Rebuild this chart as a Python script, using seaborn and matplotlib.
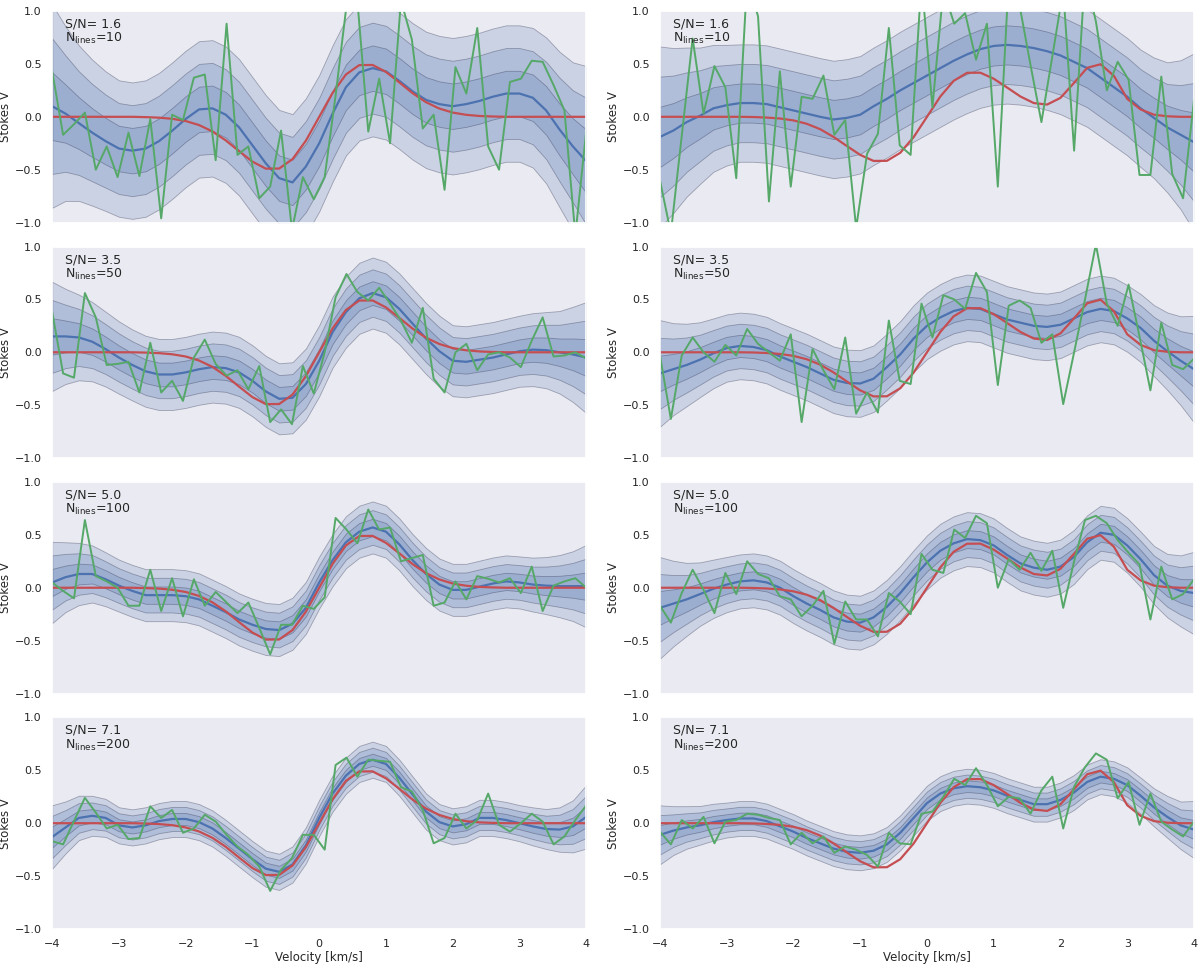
import numpy as np
import matplotlib
matplotlib.use("Agg")
import matplotlib.pyplot as plt
from matplotlib.ticker import FuncFormatter
import seaborn as sns

# grids: smooth model curves and the observed (noisy) profiles
velocity = np.linspace(-4, 4, 41)
velocity_obs = np.linspace(-4, 4, 50)

snr_labels = ["1.6", "3.5", "5.0", "7.1"]
n_lines = [10, 50, 100, 200]

# true profiles (same in every row of a column)
true_left = [0, 0, 0, 0, 0, 0, 0, -0.003, -0.008, -0.019,
             -0.040, -0.078, -0.138, -0.223, -0.325, -0.424, -0.490, -0.489, -0.400, -0.226,
             0.0, 0.226, 0.400, 0.489, 0.490, 0.424, 0.325, 0.223, 0.138, 0.078,
             0.040, 0.019, 0.008, 0.003, 0, 0, 0, 0, 0, 0, 0]
true_right = [0, 0, 0, 0, 0, 0, 0, -0.002, -0.007, -0.016,
              -0.034, -0.066, -0.117, -0.190, -0.276, -0.360, -0.417, -0.416, -0.340, -0.192,
              0.0, 0.192, 0.340, 0.416, 0.417, 0.360, 0.277, 0.192, 0.130, 0.116,
              0.179, 0.319, 0.463, 0.497, 0.388, 0.17, 0.07, 0.02, 0.005, 0, 0]

# posterior mean
mean_1l = [0.10, 0.03, -0.06, -0.15, -0.23, -0.30, -0.32, -0.30, -0.23, -0.13,
           -0.02, 0.07, 0.08, 0.02, -0.10, -0.27, -0.44, -0.58, -0.62, -0.47,
           -0.25, 0.03, 0.28, 0.42, 0.46, 0.43, 0.34, 0.24, 0.16, 0.12,
           0.10, 0.12, 0.15, 0.19, 0.22, 0.22, 0.18, 0.06, -0.12, -0.28, -0.42]
mean_1r = [-0.19, -0.13, -0.05, 0.01, 0.08, 0.11, 0.13, 0.13, 0.12, 0.09,
           0.06, 0.03, 0.00, -0.025, -0.01, 0.02, 0.10, 0.17, 0.25, 0.32,
           0.39, 0.46, 0.53, 0.59, 0.64, 0.67, 0.68, 0.67, 0.65, 0.62,
           0.58, 0.52, 0.46, 0.37, 0.28, 0.19, 0.08, -0.01, -0.10, -0.17, -0.24]
mean_2l = [0.15, 0.15, 0.14, 0.10, 0.03, -0.05, -0.12, -0.18, -0.21, -0.21,
           -0.19, -0.16, -0.14, -0.15, -0.19, -0.27, -0.37, -0.44, -0.43, -0.30,
           -0.08, 0.19, 0.38, 0.51, 0.56, 0.52, 0.41, 0.27, 0.13, 0.01,
           -0.08, -0.09, -0.07, -0.05, -0.02, 0.01, 0.025, 0.02, 0.00, -0.02, -0.05]
mean_2r = [-0.20, -0.16, -0.12, -0.07, -0.01, 0.04, 0.06, 0.05, 0.02, -0.04,
           -0.09, -0.14, -0.20, -0.26, -0.29, -0.295, -0.25, -0.14, -0.02, 0.13,
           0.25, 0.33, 0.39, 0.42, 0.41, 0.36, 0.31, 0.28, 0.25, 0.24,
           0.26, 0.32, 0.38, 0.41, 0.39, 0.32, 0.23, 0.11, 0.01, -0.08, -0.16]
mean_3l = [0.05, 0.10, 0.13, 0.13, 0.08, 0.02, -0.03, -0.07, -0.07, -0.07,
           -0.08, -0.11, -0.17, -0.23, -0.30, -0.35, -0.39, -0.40, -0.34, -0.19,
           0.05, 0.26, 0.43, 0.53, 0.57, 0.53, 0.41, 0.26, 0.13, 0.03,
           -0.02, -0.02, 0.01, 0.04, 0.06, 0.05, 0.03, 0.02, 0.015, 0.015, 0.015]
mean_3r = [-0.19, -0.15, -0.11, -0.06, -0.01, 0.03, 0.06, 0.07, 0.05, 0.00,
           -0.08, -0.15, -0.21, -0.28, -0.32, -0.33, -0.28, -0.18, -0.05, 0.10,
           0.24, 0.35, 0.42, 0.46, 0.45, 0.40, 0.31, 0.23, 0.19, 0.17,
           0.20, 0.29, 0.43, 0.52, 0.50, 0.40, 0.27, 0.12, 0.02, -0.03, -0.05]
mean_4l = [-0.13, -0.04, 0.05, 0.07, 0.05, -0.02, -0.04, -0.02, 0.02, 0.04,
           0.04, 0.01, -0.05, -0.14, -0.24, -0.34, -0.43, -0.46, -0.39, -0.21,
           0.05, 0.28, 0.45, 0.56, 0.60, 0.56, 0.43, 0.27, 0.11, 0.01,
           -0.03, -0.01, 0.05, 0.05, 0.03, 0.00, -0.03, -0.055, -0.06, -0.03, 0.06]
mean_4r = [-0.11, -0.07, -0.04, -0.02, 0.01, 0.03, 0.045, 0.045, 0.02, -0.03,
           -0.08, -0.14, -0.19, -0.24, -0.27, -0.28, -0.26, -0.20, -0.09, 0.05,
           0.19, 0.28, 0.33, 0.35, 0.34, 0.31, 0.26, 0.22, 0.18, 0.18,
           0.22, 0.29, 0.39, 0.44, 0.42, 0.36, 0.26, 0.15, 0.06, -0.02, -0.06]

# posterior std (bands are 1, 2, 3 sigma)
sig_1l = [0.32, 0.275, 0.245, 0.23, 0.22, 0.215, 0.215, 0.215, 0.215, 0.215,
          0.215, 0.215, 0.215, 0.215, 0.215, 0.215, 0.215, 0.215, 0.215, 0.215,
          0.215, 0.215, 0.215, 0.215, 0.215, 0.215, 0.215, 0.215, 0.215, 0.215,
          0.215, 0.215, 0.215, 0.215, 0.215, 0.215, 0.22, 0.23, 0.245, 0.265, 0.30]
sig_1r = [0.285, 0.26, 0.235, 0.215, 0.20, 0.19, 0.185, 0.185, 0.185, 0.185,
          0.185, 0.185, 0.185, 0.185, 0.185, 0.185, 0.185, 0.185, 0.185, 0.185,
          0.185, 0.185, 0.185, 0.185, 0.185, 0.185, 0.185, 0.185, 0.185, 0.185,
          0.185, 0.185, 0.185, 0.185, 0.185, 0.185, 0.185, 0.19, 0.205, 0.235, 0.28]
sig_2l = [0.172, 0.15, 0.135, 0.125, 0.118, 0.114, 0.112, 0.112, 0.112, 0.112,
          0.112, 0.112, 0.112, 0.112, 0.112, 0.112, 0.112, 0.112, 0.112, 0.112,
          0.112, 0.112, 0.112, 0.112, 0.112, 0.112, 0.112, 0.112, 0.112, 0.112,
          0.112, 0.112, 0.112, 0.112, 0.112, 0.112, 0.115, 0.12, 0.13, 0.15, 0.175]
sig_2r = [0.168, 0.145, 0.13, 0.118, 0.11, 0.106, 0.105, 0.105, 0.105, 0.105,
          0.105, 0.105, 0.105, 0.105, 0.105, 0.105, 0.105, 0.105, 0.105, 0.105,
          0.105, 0.105, 0.105, 0.105, 0.105, 0.105, 0.105, 0.105, 0.105, 0.105,
          0.105, 0.105, 0.105, 0.105, 0.105, 0.105, 0.107, 0.112, 0.122, 0.14, 0.168]
sig_3l = [0.128, 0.11, 0.098, 0.09, 0.085, 0.082, 0.082, 0.082, 0.082, 0.082,
          0.082, 0.082, 0.082, 0.082, 0.082, 0.082, 0.082, 0.082, 0.082, 0.082,
          0.082, 0.082, 0.082, 0.082, 0.082, 0.082, 0.082, 0.082, 0.082, 0.082,
          0.082, 0.082, 0.082, 0.082, 0.082, 0.082, 0.085, 0.09, 0.098, 0.11, 0.13]
sig_3r = [0.16, 0.135, 0.115, 0.10, 0.092, 0.087, 0.085, 0.085, 0.085, 0.085,
          0.085, 0.085, 0.085, 0.085, 0.085, 0.085, 0.085, 0.085, 0.085, 0.085,
          0.085, 0.085, 0.085, 0.085, 0.085, 0.085, 0.085, 0.085, 0.085, 0.085,
          0.085, 0.085, 0.085, 0.085, 0.085, 0.086, 0.087, 0.092, 0.10, 0.112, 0.13]
sig_4l = [0.10, 0.082, 0.07, 0.063, 0.06, 0.057, 0.057, 0.057, 0.057, 0.057,
          0.057, 0.057, 0.057, 0.057, 0.057, 0.057, 0.057, 0.057, 0.057, 0.057,
          0.057, 0.057, 0.057, 0.057, 0.057, 0.057, 0.057, 0.057, 0.057, 0.057,
          0.057, 0.057, 0.057, 0.057, 0.057, 0.057, 0.06, 0.063, 0.07, 0.082, 0.10]
sig_4r = [0.093, 0.077, 0.067, 0.061, 0.058, 0.055, 0.055, 0.055, 0.055, 0.055,
          0.055, 0.055, 0.055, 0.055, 0.055, 0.055, 0.055, 0.055, 0.055, 0.055,
          0.055, 0.055, 0.055, 0.055, 0.055, 0.055, 0.055, 0.055, 0.055, 0.055,
          0.055, 0.055, 0.055, 0.055, 0.055, 0.056, 0.057, 0.06, 0.066, 0.075, 0.09]

# observed profiles
obs_1l = [0.43, -0.17, -0.07, 0.04, -0.50, -0.28, -0.57, -0.15, -0.56, -0.02,
          -0.96, 0.02, -0.03, 0.37, 0.40, -0.41, 0.88, -0.36, -0.28, -0.77,
          -0.66, -0.13, -1.07, -0.57, -0.78, -0.57, 0.20, 1.05, 1.10, -0.14,
          0.36, -0.25, 1.10, 0.73, -0.11, 0.02, -0.69, 0.47, 0.22, 0.84,
          -0.28, -0.50, 0.33, 0.36, 0.53, 0.52, 0.30, 0.06, -1.12, -0.13]
obs_1r = [-0.60, -1.10, -0.18, 0.74, 0.03, 0.48, 0.28, -0.58, 1.30, 0.95,
          -0.80, 0.43, -0.66, 0.19, 0.17, 0.39, -0.17, -0.03, -1.05, -0.35,
          -0.16, 0.84, -0.27, -0.36, 1.30, 0.09, 1.20, 0.88, 0.98, 0.54,
          0.88, -0.66, 1.30, 1.05, 0.49, -0.05, 0.57, 1.20, -0.32, 1.35,
          0.90, 0.25, 0.52, 0.35, -0.55, -0.55, 0.38, -0.54, -0.77, 0.16]
obs_2l = [0.38, -0.20, -0.24, 0.56, 0.33, -0.12, -0.11, -0.09, -0.38, 0.09,
          -0.38, -0.27, -0.46, -0.05, 0.12, -0.11, -0.22, -0.17, -0.35, -0.13,
          -0.66, -0.54, -0.68, -0.13, -0.39, 0.00, 0.52, 0.74, 0.57, 0.49,
          0.61, 0.46, 0.30, 0.09, 0.42, -0.25, -0.38, 0.00, 0.08, -0.17,
          -0.02, 0.00, -0.05, -0.14, 0.11, 0.33, -0.04, -0.03, 0.00, -0.06]
obs_2r = [-0.03, -0.63, -0.03, 0.14, 0.00, -0.09, 0.07, -0.03, 0.22, 0.08,
          0.00, -0.08, 0.17, -0.66, 0.03, -0.17, -0.35, 0.14, -0.58, -0.38,
          -0.57, 0.30, -0.27, -0.30, 0.46, 0.14, 0.54, 0.50, 0.41, 0.75,
          0.57, -0.31, 0.44, 0.49, 0.42, 0.09, 0.17, -0.49, 0.00, 0.50,
          1.02, 0.46, 0.25, 0.64, 0.15, -0.36, 0.28, -0.12, -0.16, -0.06]
obs_3l = [0.05, -0.03, -0.10, 0.64, 0.11, 0.06, 0.00, -0.17, -0.17, 0.17,
          -0.22, 0.09, -0.27, 0.08, -0.17, -0.04, -0.14, -0.24, -0.14, -0.38,
          -0.63, -0.35, -0.35, -0.17, -0.20, -0.09, 0.66, 0.55, 0.42, 0.74,
          0.55, 0.57, 0.25, 0.28, 0.31, -0.17, -0.14, 0.06, -0.11, 0.11,
          0.085, 0.05, 0.09, -0.05, 0.20, -0.22, 0.02, 0.06, 0.09, 0.00]
obs_3r = [-0.17, -0.33, -0.05, 0.17, -0.02, -0.24, 0.14, -0.06, 0.25, 0.13,
          0.09, -0.08, -0.11, -0.27, -0.17, -0.03, -0.53, -0.13, -0.30, -0.30,
          -0.46, -0.05, -0.13, -0.25, 0.32, 0.17, 0.14, 0.55, 0.47, 0.68,
          0.61, 0.00, 0.27, 0.17, 0.33, 0.16, 0.35, -0.19, 0.25, 0.64,
          0.68, 0.61, 0.45, 0.33, 0.22, -0.30, 0.20, -0.11, -0.06, 0.08]
obs_4l = [-0.17, -0.20, 0.02, 0.24, 0.10, -0.05, -0.015, -0.15, -0.14, 0.16,
          0.05, 0.125, -0.09, -0.05, 0.08, 0.015, -0.11, -0.22, -0.30, -0.41,
          -0.64, -0.44, -0.33, -0.11, -0.11, -0.25, 0.55, 0.62, 0.44, 0.60,
          0.59, 0.58, 0.34, 0.30, 0.125, -0.19, -0.14, 0.09, -0.05, 0.03,
          0.28, -0.015, -0.08, 0.00, 0.09, 0.015, -0.20, -0.125, 0.03, 0.17]
obs_4r = [-0.08, -0.20, 0.03, -0.05, 0.06, -0.19, 0.015, 0.03, 0.09, 0.08,
          0.05, 0.03, -0.20, -0.09, -0.19, -0.125, -0.28, -0.22, -0.25, -0.30,
          -0.41, -0.09, -0.19, -0.20, 0.09, 0.11, 0.25, 0.42, 0.36, 0.52,
          0.36, 0.16, 0.25, 0.235, 0.09, 0.31, 0.44, -0.05, 0.345, 0.53,
          0.66, 0.60, 0.235, 0.39, -0.015, 0.28, 0.015, -0.06, -0.125, 0.015]

means = [[mean_1l, mean_1r], [mean_2l, mean_2r], [mean_3l, mean_3r], [mean_4l, mean_4r]]
sigmas = [[sig_1l, sig_1r], [sig_2l, sig_2r], [sig_3l, sig_3r], [sig_4l, sig_4r]]
observed = [[obs_1l, obs_1r], [obs_2l, obs_2r], [obs_3l, obs_3r], [obs_4l, obs_4r]]
truths = [true_left, true_right]

sns.set_theme(style="dark")
plt.rcParams["font.family"] = ["DejaVu Sans"]

pal = sns.color_palette("deep")
blue, green, red = pal[0], pal[2], pal[3]
band_face = (*blue, 0.2)
band_edge = (0.15, 0.15, 0.25, 0.35)

minus_fmt = FuncFormatter(lambda v, _: f"{v:.1f}".replace("-", "\u2212"))

fig, axes = plt.subplots(4, 2, figsize=(12, 9.68), dpi=100, sharex=True)
fig.subplots_adjust(left=0.0435, right=0.995, top=0.9886, bottom=0.0403,
                    wspace=0.138, hspace=0.113)

for row in range(4):
    for col in range(2):
        ax = axes[row, col]
        mu = np.array(means[row][col])
        sig = np.array(sigmas[row][col])
        for k in (3, 2, 1):
            ax.fill_between(velocity, mu - k * sig, mu + k * sig, facecolor=band_face,
                            edgecolor=band_edge, linewidth=0.6)
        sns.lineplot(x=velocity, y=mu, ax=ax, color=blue, linewidth=1.6)
        sns.lineplot(x=velocity, y=truths[col], ax=ax, color=red, linewidth=1.6)
        sns.lineplot(x=velocity_obs, y=observed[row][col], ax=ax, color=green, linewidth=1.4)

        ax.set_xlim(-4, 4)
        ax.set_ylim(-1, 1)
        ax.set_yticks([-1, -0.5, 0, 0.5, 1])
        ax.yaxis.set_major_formatter(minus_fmt)
        ax.tick_params(labelsize=8, pad=1.5)
        ax.set_ylabel("Stokes V", fontsize=8.5, labelpad=2)
        ax.set_xlabel("")
        ax.text(0.024, 0.922, f"S/N= {snr_labels[row]}", transform=ax.transAxes, fontsize=9)
        ax.text(0.024, 0.852, r"N$_{\rm lines}$=" + str(n_lines[row]),
                transform=ax.transAxes, fontsize=9)

for ax in axes[-1]:
    ax.set_xticks(range(-4, 5))
    ax.set_xlabel("Velocity [km/s]", fontsize=8.5, labelpad=1)

fig.savefig("out.png", dpi=100)
